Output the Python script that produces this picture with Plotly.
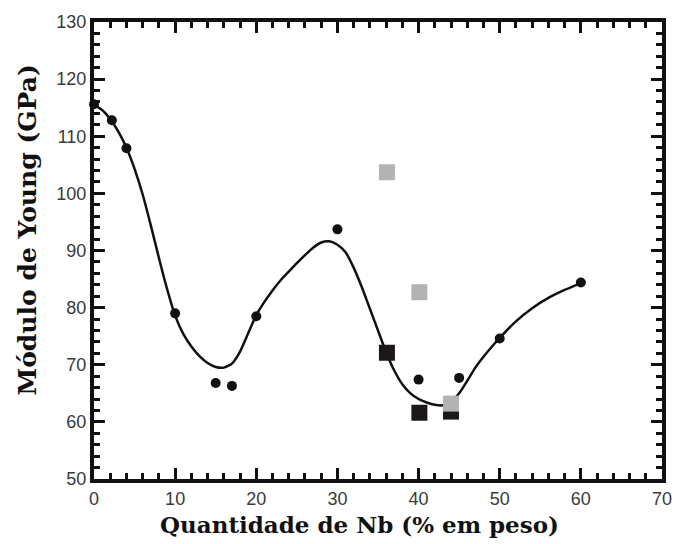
import plotly.graph_objects as go

# Experimental points (black circles)
circ_x = [0, 2.2, 4, 10, 15, 17, 20, 30, 40, 45, 50, 60]
circ_y = [115.6, 112.8, 107.9, 79.0, 66.8, 66.3, 78.5, 93.7, 67.4, 67.7, 74.6, 84.4]

# Black squares
bsq_x = [36.1, 40.1, 44.0]
bsq_y = [72.1, 61.6, 61.8]

# Gray squares
gsq_x = [36.1, 40.1, 44.0]
gsq_y = [103.7, 82.7, 63.2]

# Fitted curve
curve_x = [0, 1, 2, 3, 4, 5, 6, 7, 8, 9, 10, 11, 12, 13, 14, 15, 16, 17, 18, 19, 20,
           21, 22, 23, 24, 25, 26, 27, 28, 29, 30, 31, 32, 33, 34, 35, 36, 37, 38, 39, 40,
           41, 42, 43, 44, 45, 46, 47, 48, 49, 50, 52, 54, 56, 58, 60]
curve_y = [115.5, 114.6, 113.0, 110.8, 108.0, 104.3, 99.8, 94.4, 88.7, 83.3, 78.6, 75.4, 73.2, 71.5, 70.3, 69.6, 69.5, 70.2, 72.3, 75.5, 78.7,
           81.0, 83.0, 84.8, 86.3, 87.8, 89.2, 90.5, 91.4, 91.6, 91.0, 89.7, 87.0, 83.6, 79.8, 76.0, 72.2, 69.0, 66.6, 65.0, 64.0,
           63.4, 63.0, 62.9, 63.5, 65.0, 67.2, 69.5, 71.4, 73.1, 74.7, 77.6, 79.9, 81.7, 83.1, 84.3]

x_title = "<b>Quantidade de Nb (% em peso)</b>"
y_title = "<b>Módulo de Young (GPa)</b>"

fig = go.Figure()
fig.add_trace(go.Scatter(x=curve_x, y=curve_y, mode="lines",
                         line=dict(color="#111111", width=2.5, shape="spline", smoothing=0.6),
                         showlegend=False, hoverinfo="skip"))
fig.add_trace(go.Scatter(x=circ_x, y=circ_y, mode="markers", cliponaxis=False,
                         marker=dict(symbol="circle", size=10, color="#111111"),
                         showlegend=False))
fig.add_trace(go.Scatter(x=bsq_x, y=bsq_y, mode="markers",
                         marker=dict(symbol="square", size=16, color="#1c1818"),
                         showlegend=False))
fig.add_trace(go.Scatter(x=gsq_x, y=gsq_y, mode="markers",
                         marker=dict(symbol="square", size=16, color="#b3b3b5"),
                         showlegend=False))

tickfont = dict(family="Liberation Sans, Arial, sans-serif", size=18, color="#3a3a3a")

for upd, rng, t0 in [(fig.update_xaxes, [0, 70], 0), (fig.update_yaxes, [50, 130], 50)]:
    upd(range=rng, dtick=10, tick0=t0,
        showline=True, linecolor="#111111", linewidth=4, mirror="allticks",
        ticks="inside", ticklen=11, tickwidth=3, tickcolor="#111111",
        showgrid=False, zeroline=False, tickfont=tickfont,
        minor=dict(ticks="inside", ticklen=6, tickwidth=3, tickcolor="#111111",
                   dtick=2, tick0=0, showgrid=False))

fig.add_annotation(text=x_title, xref="paper", yref="paper", x=0.467, y=-0.099,
                   showarrow=False, xanchor="center", yanchor="middle",
                   font=dict(family="DejaVu Serif, Liberation Serif, serif", size=23, color="#111111"))
fig.add_annotation(text=y_title, xref="paper", yref="paper", x=-0.117, y=0.545,
                   showarrow=False, xanchor="center", yanchor="middle", textangle=-90,
                   font=dict(family="DejaVu Serif, Liberation Serif, serif", size=25, color="#111111"))

fig.update_layout(width=684, height=544,
                  margin=dict(l=94, r=16, t=15, b=65),
                  paper_bgcolor="white", plot_bgcolor="white")

fig.write_html("out.html")
